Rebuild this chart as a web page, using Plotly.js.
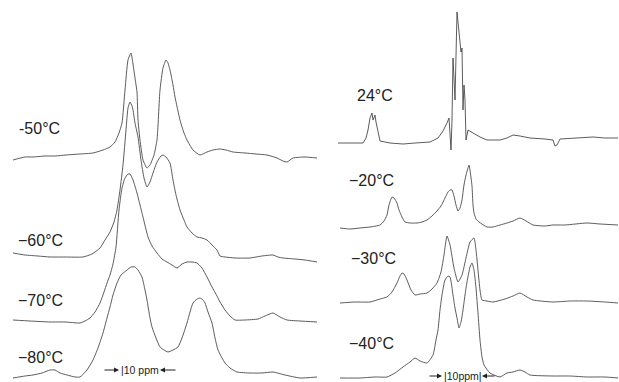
<!DOCTYPE html>
<html>
<head>
<meta charset="utf-8">
<script src="https://cdn.plot.ly/plotly-3.0.1.min.js"></script>
<style>html,body{margin:0;padding:0;background:#fff;}#chart{width:619px;height:382px;}</style>
</head>
<body>
<div id="chart"></div>
<script>
// ---- Left panel: spectra at -50, -60, -70, -80 °C ----
const leftLabels = ["-50°C", "−60°C", "−70°C", "−80°C"];
const x_m50 = [13,25,33,45,55,66,80,93,103,110,115,119,122,125,128,131,133,135,137,138,140,143,147,150,154,157,160,163,166,168,170,173,175,180,184,187,193,200,207,213,220,226,233,245,256,267,277,283,287,293,305,317];
const y_m50 = [-3,0,0,1,1,2,3,4,7,10,15,24,34,67,97,104,93,79,65,37,17,-3,-11,-8,2,17,67,89,97,94,87,72,60,37,24,17,7,2,5,7,8,7,5,4,3,2,-1,-4,-5,-1,0,-1];
const x_m60 = [13,25,38,50,65,83,92,100,105,110,114,117,120,123,126,128,130,132,133,135,138,141,144,147,150,153,157,161,163,166,170,173,176,180,184,187,192,197,202,207,212,217,220,225,235,250,262,273,278,283,295,305,317];
const y_m60 = [4,2,1,0,0,0,3,9,17,25,35,47,67,92,127,149,155,151,147,134,120,97,79,70,75,84,95,101,102,100,94,77,62,47,37,30,24,20,19,17,12,7,1,0,-1,-1,1,2,0,-1,-2,-3,-5];
const x_m70 = [13,30,50,65,80,85,90,95,100,104,107,110,113,116,119,122,125,128,130,133,137,140,143,148,152,157,162,167,172,177,182,187,192,197,202,207,212,217,220,225,230,235,245,258,265,273,280,287,300,317];
const y_m70 = [1,0,-1,-1,-2,0,3,9,18,29,38,46,57,74,111,133,143,147,147,141,128,116,104,84,75,68,62,59,56,53,57,59,59,58,53,44,34,25,19,11,5,1,1,2,5,8,4,1,0,-1];
const x_m80 = [13,25,33,42,50,55,60,67,75,80,87,93,98,103,107,110,113,117,121,127,131,135,138,142,145,147,150,152,156,160,164,168,173,178,182,187,190,193,197,200,203,205,208,212,215,218,222,225,230,237,250,262,273,285,300,317];
const y_m80 = [-2,0,1,3,6,6,3,1,-1,-1,6,16,28,43,58,69,81,93,101,106,109,109,106,99,86,76,58,49,38,29,26,24,26,29,38,53,64,73,77,78,76,73,64,53,38,26,18,13,8,4,3,3,4,1,-2,-1];

// ---- Right panel: spectra at 24, -20, -30, -40 °C ----
const rightLabels = ["24°C", "−20°C", "−30°C", "−40°C"];
const x_p24 = [338,350,363,366,368,370,372,373,375,376,378,380,390,403,415,430,438,443,447,449,451,452,453,455,457,459,461,462,463,464,465,466,468,473,480,487,500,507,513,520,530,545,553,555,557,560,575,593,605,618];
const y_p24 = [-1,-1,-1,4,12,24,29,22,27,20,9,1,-1,-2,-1,0,4,11,19,24,-8,22,84,42,130,107,90,94,32,57,42,2,12,9,5,2,2,4,7,6,4,3,2,-4,-3,3,4,5,4,4];
const x_m20 = [340,350,360,370,380,384,387,389,392,394,397,399,402,405,410,417,422,427,432,437,441,445,448,450,452,454,456,458,460,462,464,466,468,469,470,472,473,474,476,479,487,493,500,507,513,520,526,533,545,553,565,587,600,618];
const y_m20 = [-2,-3,-2,-1,1,5,11,21,29,28,23,16,9,4,3,3,4,6,10,15,20,28,34,36,36,30,21,15,18,26,41,51,58,61,56,40,21,13,7,4,-1,-1,1,3,5,8,5,1,0,1,1,3,2,1];
const x_m30 = [340,355,370,380,387,392,397,400,402,404,407,411,415,420,427,432,437,441,444,447,450,454,458,462,466,470,474,476,478,480,482,487,493,505,513,520,527,533,553,570,587,605,618];
const y_m30 = [-2,-1,-1,2,4,9,18,25,28,27,21,11,6,7,8,12,18,29,46,65,56,33,19,26,43,59,63,51,31,11,1,0,-1,2,5,8,4,1,-1,0,0,-1,-2];
const x_m40 = [340,360,375,387,395,403,410,415,420,427,433,436,438,440,442,445,448,450,453,455,457,459,461,463,465,467,470,472,474,476,478,480,482,484,490,500,507,513,520,525,530,553,570,587,605,618];
const y_m40 = [-1,-1,0,0,4,10,15,19,16,14,22,37,47,67,82,97,101,100,82,69,59,49,55,67,82,95,110,114,107,89,64,37,20,12,4,0,4,5,7,5,2,1,1,0,0,-1];

// stacking offsets of each spectrum's baseline
const leftOffsets = [225, 125, 61, 6];
const rightOffsets = [240, 156, 81, 5];
const scaleLabel = "10 ppm";

const leftX = [x_m50, x_m60, x_m70, x_m80];
const leftY = [y_m50, y_m60, y_m70, y_m80];
const rightX = [x_p24, x_m20, x_m30, x_m40];
const rightY = [y_p24, y_m20, y_m30, y_m40];

const lineStyle = {color: '#4a4a4a', width: 0.9, shape: 'spline', smoothing: 0.5};
const sharpStyle = {color: '#4a4a4a', width: 0.9, shape: 'linear'};
const traces = [];
leftX.forEach((xs, i) => {
  traces.push({x: xs, y: leftY[i].map(v => v + leftOffsets[i]), type: 'scatter', mode: 'lines',
    line: lineStyle, xaxis: 'x', yaxis: 'y', name: leftLabels[i], hoverinfo: 'skip'});
});
rightX.forEach((xs, i) => {
  traces.push({x: xs, y: rightY[i].map(v => v + rightOffsets[i]), type: 'scatter', mode: 'lines',
    line: i === 0 ? sharpStyle : lineStyle, xaxis: 'x2', yaxis: 'y2', name: rightLabels[i], hoverinfo: 'skip'});
});

const labelFont = {family: 'Liberation Sans, Arial, sans-serif', size: 16, color: '#222'};
const smallFont = {family: 'Liberation Sans, Arial, sans-serif', size: 10.5, color: '#222'};
const leftLabelPos = [[17, 254], [16, 142], [16, 82], [16, 25]];
const rightLabelPos = [[355, 287], [347, 202], [349, 124], [347, 39]];
const annotations = [];
leftLabels.forEach((t, i) => annotations.push({x: leftLabelPos[i][0], y: leftLabelPos[i][1], xref: 'x', yref: 'y',
  text: t, showarrow: false, xanchor: 'left', yanchor: 'middle', font: labelFont}));
rightLabels.forEach((t, i) => annotations.push({x: rightLabelPos[i][0], y: rightLabelPos[i][1], xref: 'x2', yref: 'y2',
  text: t, showarrow: false, xanchor: 'left', yanchor: 'middle', font: labelFont}));

// scale bars
function arrow(x, y, xr, yr, ax) {
  return {x: x, y: y, xref: xr, yref: yr, text: '', showarrow: true, ax: ax, ay: 0,
    arrowhead: 2, arrowsize: 1, arrowwidth: 1, arrowcolor: '#222'};
}
annotations.push(arrow(119, 12, 'x', 'y', -16));
annotations.push({x: 119, y: 12, xref: 'x', yref: 'y', text: '|' + scaleLabel, showarrow: false,
  xanchor: 'left', yanchor: 'middle', font: smallFont});
annotations.push(arrow(160, 12, 'x', 'y', 17));
annotations.push(arrow(442, 6, 'x2', 'y2', -14));
annotations.push({x: 442, y: 6, xref: 'x2', yref: 'y2', text: '|' + scaleLabel.replace(' ', '') + '|', showarrow: false,
  xanchor: 'left', yanchor: 'middle', font: smallFont});
annotations.push(arrow(482, 6, 'x2', 'y2', 14));

const axisOff = {visible: false, showgrid: false, zeroline: false, fixedrange: true};
const layout = {
  width: 619, height: 382,
  margin: {l: 0, r: 0, t: 0, b: 0},
  paper_bgcolor: '#fff', plot_bgcolor: '#fff',
  showlegend: false,
  xaxis: Object.assign({domain: [0, 320/619], range: [0, 320]}, axisOff),
  yaxis: Object.assign({domain: [0, 1], range: [0, 382]}, axisOff),
  xaxis2: Object.assign({domain: [320/619, 1], range: [320, 619]}, axisOff),
  yaxis2: Object.assign({domain: [0, 1], range: [0, 382], anchor: 'x2'}, axisOff),
  annotations: annotations
};
Plotly.newPlot('chart', traces, layout, {displayModeBar: false, staticPlot: true});
</script>
</body>
</html>
